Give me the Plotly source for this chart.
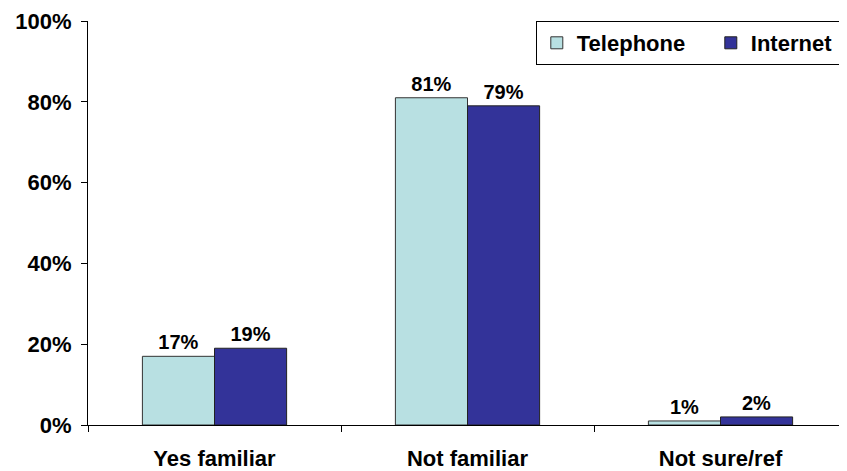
import plotly.graph_objects as go

categories = ["Yes familiar", "Not familiar", "Not sure/ref"]
telephone = [17, 81, 1]
internet = [19, 79, 2]
y_ticks = [0, 20, 40, 60, 80, 100]
y_tick_labels = ["0%", "20%", "40%", "60%", "80%", "100%"]

FONT = "Arial, Liberation Sans, sans-serif"

fig = go.Figure()
fig.add_trace(go.Bar(
    name="Telephone", x=categories, y=telephone,
    marker=dict(color="#B8E0E2", line=dict(color="#333333", width=1)),
    text=[f"{v}%" for v in telephone], textposition="outside",
    textfont=dict(family=FONT, size=20, color="black", weight="bold"),
    cliponaxis=False,
))
fig.add_trace(go.Bar(
    name="Internet", x=categories, y=internet,
    marker=dict(color="#333399", line=dict(color="#222222", width=1)),
    text=[f"{v}%" for v in internet], textposition="outside",
    textfont=dict(family=FONT, size=20, color="black", weight="bold"),
    cliponaxis=False,
))

fig.update_layout(
    width=839, height=463,
    margin=dict(l=80, r=0, t=13, b=46, autoexpand=False),
    paper_bgcolor="white", plot_bgcolor="white",
    barmode="group", bargap=0.43, bargroupgap=0,
    font=dict(family=FONT, size=22, color="black", weight="bold"),
    showlegend=True,
    legend=dict(
        orientation="h", x=0.59, xanchor="left", y=1, yanchor="top",
        bordercolor="black", borderwidth=1, bgcolor="white",
        font=dict(family=FONT, size=22, color="black", weight="bold"),
        traceorder="normal", entrywidth=129, entrywidthmode="pixels",
    ),
)
fig.update_xaxes(
    type="category", tickson="boundaries", ticks="outside", ticklen=6,
    tickcolor="black", showline=True, linecolor="black", linewidth=1,
    showgrid=False, tickfont=dict(family=FONT, size=22, color="black", weight="bold"),
    ticklabelstandoff=14, automargin=False,
)
fig.update_yaxes(
    range=[0, 100], tickvals=y_ticks, ticktext=y_tick_labels,
    ticks="outside", ticklen=6, tickcolor="black",
    showline=True, linecolor="black", linewidth=1, showgrid=False, zeroline=False,
    tickfont=dict(family=FONT, size=22, color="black", weight="bold"),
    ticklabelstandoff=5, automargin=False,
)

fig.write_html("out.html")
